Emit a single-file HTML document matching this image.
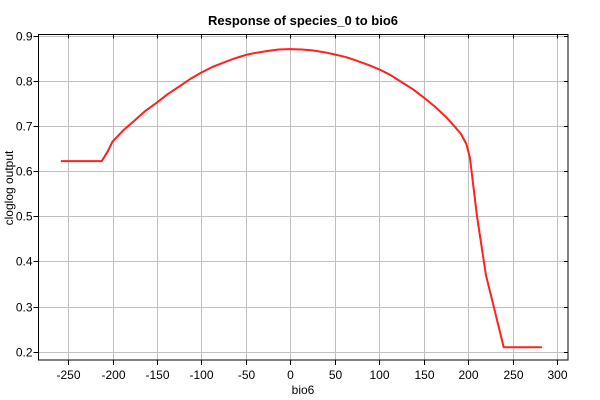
<!DOCTYPE html>
<html><head><meta charset="utf-8"><style>
body{margin:0;background:#fff;font-family:"Liberation Sans",sans-serif}
svg{display:block}
</style></head><body>
<svg id="c" width="600" height="400" xmlns="http://www.w3.org/2000/svg">
<text x="303" y="25" text-anchor="middle" font-size="13" font-weight="bold">Response of species_0 to bio6</text>
<text x="303" y="394" text-anchor="middle" font-size="12">bio6</text>
<text transform="translate(13,188) rotate(-90)" text-anchor="middle" font-size="12">cloglog output</text>
<g id="grid"></g><g id="ticks"></g>
<rect x="38.5" y="34.5" width="529.5" height="325.5" fill="none" stroke="#000"/>
<path id="line" fill="none" stroke="#ff2020" stroke-width="2" stroke-linejoin="round"/>
</svg>
<script>
const xs=[-258,-212,-205,-200,-188,-175,-163,-150,-138,-125,-113,-100,-88,-75,-63,-50,-38,-25,-13,0,13,25,38,50,63,75,88,100,113,125,138,150,163,175,185,192,198,202,210,220,230,240,283];
const ys=[0.622,0.622,0.645,0.665,0.690,0.712,0.733,0.752,0.770,0.787,0.803,0.818,0.830,0.840,0.849,0.857,0.862,0.866,0.869,0.870,0.869,0.867,0.863,0.858,0.852,0.844,0.835,0.825,0.812,0.797,0.781,0.763,0.742,0.72,0.698,0.682,0.66,0.63,0.5,0.37,0.29,0.21,0.21];
const xTicks=[-250,-200,-150,-100,-50,0,50,100,150,200,250,300];
const yTicks=[0.2,0.3,0.4,0.5,0.6,0.7,0.8,0.9];
const L=38.5,R=568,T=34.5,B=360;
const X=v=>290.3+v*0.889;
const Y=v=>35.5+(0.9-v)*451.7;
const ns="http://www.w3.org/2000/svg";
const g=document.getElementById('grid'),tk=document.getElementById('ticks');
function mk(p,tag,a){const e=document.createElementNS(ns,tag);for(const k in a)e.setAttribute(k,a[k]);p.appendChild(e);return e;}
xTicks.forEach(v=>{const x=Math.round(X(v))+0.5;
const l=mk(g,'line',{x1:x,x2:x,y1:T,y2:B,stroke:'#c0c0c0'});


mk(tk,'line',{x1:x,x2:x,y1:B,y2:B+5,stroke:'#000'});
mk(tk,'line',{x1:x,x2:x,y1:T,y2:T+4,stroke:'#000'});
const t=mk(tk,'text',{x:x,y:B+19,'text-anchor':'middle','font-size':'12'});t.textContent=v;

});
yTicks.forEach(v=>{const y=Math.round(Y(v))+0.5;
const l=mk(g,'line',{x1:L,x2:R,y1:y,y2:y,stroke:'#c0c0c0'});


mk(tk,'line',{x1:L-5,x2:L,y1:y,y2:y,stroke:'#000'});
mk(tk,'line',{x1:R-4,x2:R,y1:y,y2:y,stroke:'#000'});
const t=mk(tk,'text',{x:L-6,y:y+4,'text-anchor':'end','font-size':'12'});t.textContent=v.toFixed(1);

});
document.getElementById('line').setAttribute('d',xs.map((v,i)=>(i?'L':'M')+X(v).toFixed(1)+' '+Y(ys[i]).toFixed(1)).join(''));
</script>
</body></html>
